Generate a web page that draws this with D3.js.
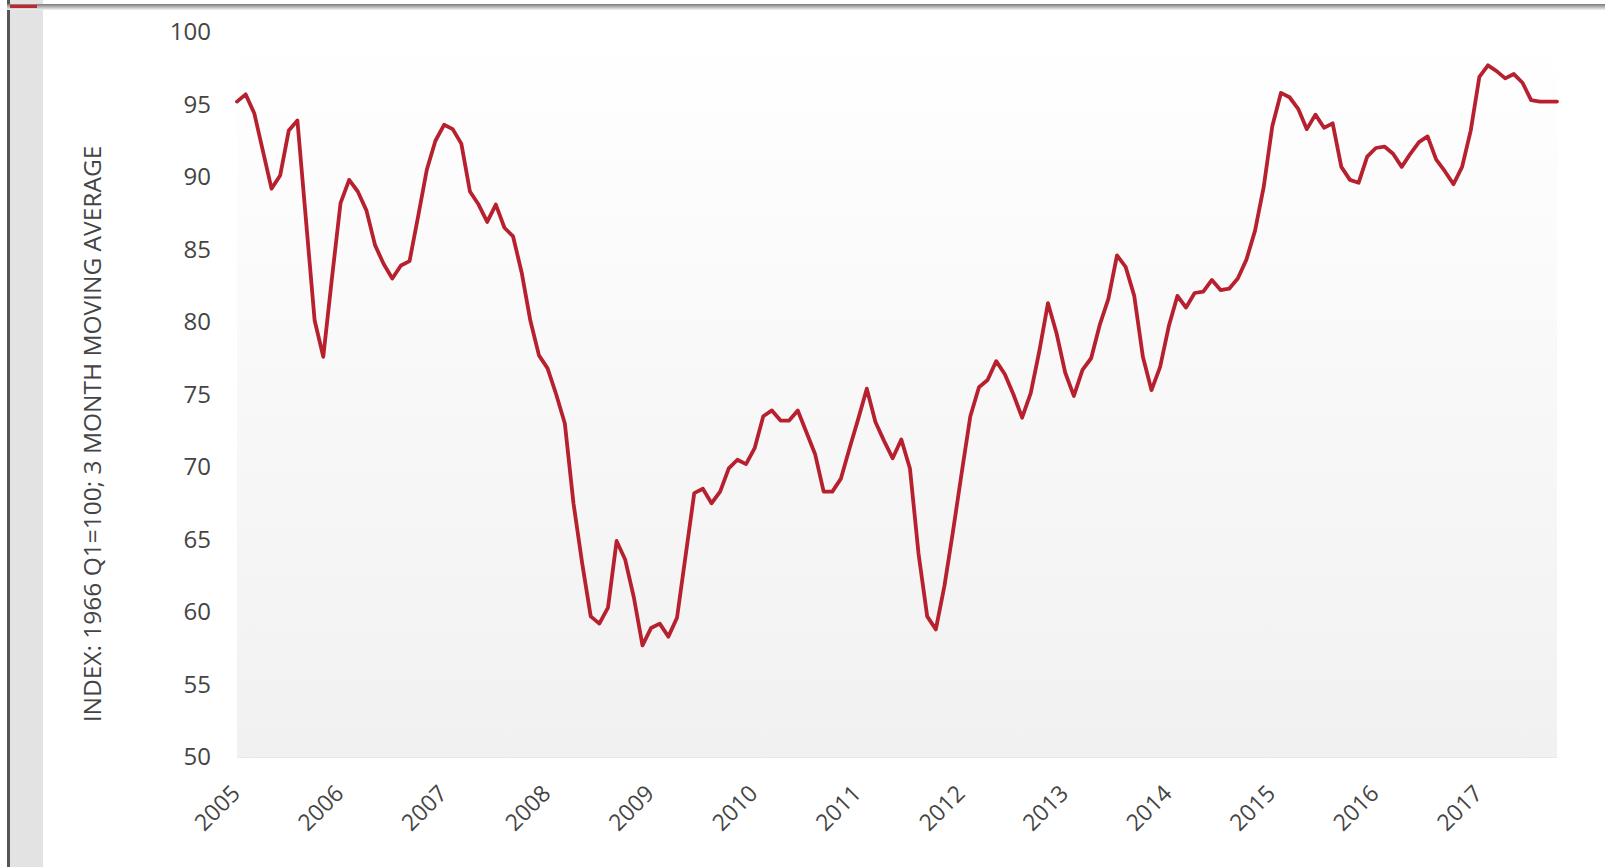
<!DOCTYPE html>
<html lang="en">
<head>
    <meta charset="UTF-8">
    <title>Consumer Sentiment 2005-2017</title>
    <script src="https://d3js.org/d3.v7.min.js"></script>
    <style>
        html, body { margin: 0; padding: 0; background: #fff; }
        #chart { display: block; }
    </style>
</head>
<body>
    <svg id="chart"></svg>

    <script>
        // monthly values, Jan 2005 .. Oct 2017 (3 month moving average)
        const startYear = 2005;
        const sentiment = [
            95.2, 95.7, 94.4, 91.8, 89.2, 90.1, 93.2, 93.9, 87.0, 80.1, 77.6, 83.0,
            88.2, 89.8, 89.0, 87.7, 85.3, 84.0, 83.0, 83.9, 84.2, 87.3, 90.5, 92.5,
            93.6, 93.3, 92.3, 89.0, 88.1, 86.9, 88.1, 86.5, 85.9, 83.4, 80.1, 77.7,
            76.8, 75.0, 73.0, 67.5, 63.4, 59.7, 59.2, 60.3, 64.9, 63.6, 61.0, 57.7,
            58.9, 59.2, 58.3, 59.6, 63.9, 68.2, 68.5, 67.5, 68.3, 69.9, 70.5, 70.2,
            71.3, 73.5, 73.9, 73.2, 73.2, 73.9, 72.4, 70.9, 68.3, 68.3, 69.2, 71.3,
            73.3, 75.4, 73.1, 71.8, 70.6, 71.9, 69.9, 64.0, 59.7, 58.8, 61.8, 65.6,
            69.6, 73.5, 75.5, 76.0, 77.3, 76.4, 75.0, 73.4, 75.1, 78.0, 81.3, 79.2,
            76.5, 74.9, 76.7, 77.5, 79.8, 81.6, 84.6, 83.8, 81.8, 77.6, 75.3, 76.9,
            79.7, 81.8, 81.0, 82.0, 82.1, 82.9, 82.2, 82.3, 83.0, 84.3, 86.3, 89.3,
            93.5, 95.8, 95.5, 94.7, 93.3, 94.3, 93.4, 93.7, 90.7, 89.8, 89.6, 91.4,
            92.0, 92.1, 91.6, 90.7, 91.6, 92.4, 92.8, 91.2, 90.4, 89.5, 90.7, 93.2,
            96.9, 97.7, 97.3, 96.8, 97.1, 96.5, 95.3, 95.2, 95.2, 95.2
        ];
        const yearLabels = ["2005", "2006", "2007", "2008", "2009", "2010", "2011",
                            "2012", "2013", "2014", "2015", "2016", "2017"];
        const yTicks = [50, 55, 60, 65, 70, 75, 80, 85, 90, 95, 100];
        const yTitle = "INDEX: 1966 Q1=100; 3 MONTH MOVING AVERAGE";

        const width = 1605, height = 867;
        const plot = { left: 237, right: 1557, top: 32, bottom: 757 };
        const font = "'Open Sans', sans-serif";
        const textColor = "#444";

        const svg = d3.select("#chart")
            .attr("width", width)
            .attr("height", height);

        // page frame bits (left strip + top rule)
        svg.append("rect").attr("x", 10).attr("y", 0).attr("width", 33).attr("height", height).attr("fill", "#e3e3e3");
        svg.append("rect").attr("x", 7).attr("y", 0).attr("width", 3).attr("height", height).attr("fill", "#555");
        const topGrad = svg.append("defs").append("linearGradient")
            .attr("id", "topRule").attr("x1", 0).attr("x2", 0).attr("y1", 0).attr("y2", 1);
        topGrad.append("stop").attr("offset", "0%").attr("stop-color", "#7a7a7a");
        topGrad.append("stop").attr("offset", "100%").attr("stop-color", "#f4f4f4");
        svg.append("rect").attr("x", 7).attr("y", 4).attr("width", width - 7).attr("height", 6).attr("fill", "url(#topRule)");
        svg.append("rect").attr("x", 10).attr("y", 5).attr("width", 27).attr("height", 3).attr("fill", "#c3262e");

        const x = d3.scaleLinear()
            .domain([0, sentiment.length - 1])
            .range([plot.left, plot.right]);

        const y = d3.scaleLinear()
            .domain([50, 100])
            .range([plot.bottom, plot.top]);

        // plot area background
        const bg = svg.select("defs").append("linearGradient")
            .attr("id", "plotBg").attr("x1", 0).attr("x2", 0).attr("y1", 0).attr("y2", 1);
        bg.append("stop").attr("offset", "0%").attr("stop-color", "#ffffff");
        bg.append("stop").attr("offset", "100%").attr("stop-color", "#f1f1f1");
        svg.append("rect")
            .attr("x", plot.left)
            .attr("y", plot.top)
            .attr("width", plot.right - plot.left)
            .attr("height", plot.bottom - plot.top)
            .attr("fill", "url(#plotBg)");
        svg.append("line")
            .attr("x1", plot.left).attr("x2", plot.right)
            .attr("y1", plot.bottom + 0.5).attr("y2", plot.bottom + 0.5)
            .attr("stroke", "#e8e8e8");

        // y axis
        const yAxis = svg.append("g")
            .attr("transform", `translate(${plot.left - 26},0)`)
            .call(d3.axisLeft(y).tickValues(yTicks).tickSize(0).tickPadding(0));
        yAxis.select(".domain").remove();
        yAxis.selectAll("text")
            .attr("font-family", font)
            .attr("font-size", "24px")
            .attr("fill", textColor);

        // x axis, one label per January
        const xAxis = svg.append("g")
            .attr("transform", `translate(0,${plot.bottom})`)
            .call(d3.axisBottom(x)
                .tickValues(yearLabels.map((d, i) => i * 12))
                .tickFormat((d, i) => yearLabels[i])
                .tickSize(0));
        xAxis.select(".domain").remove();
        xAxis.selectAll("text")
            .attr("font-family", font)
            .attr("font-size", "23px")
            .attr("fill", textColor)
            .attr("text-anchor", "end")
            .attr("dy", 0)
            .attr("y", 0)
            .attr("transform", "translate(4,38) rotate(-45)");

        // axis title
        svg.append("text")
            .attr("transform", "translate(101,434) rotate(-90)")
            .attr("text-anchor", "middle")
            .attr("font-family", font)
            .attr("font-size", "24.5px")
            .attr("fill", textColor)
            .text(yTitle);

        // the series
        const line = d3.line()
            .x((d, i) => x(i))
            .y(d => y(d));

        svg.append("path")
            .datum(sentiment)
            .attr("d", line)
            .attr("fill", "none")
            .attr("stroke", "#b7202e")
            .attr("stroke-width", 3.8)
            .attr("stroke-linejoin", "round")
            .attr("stroke-linecap", "round");
    </script>
</body>
</html>
